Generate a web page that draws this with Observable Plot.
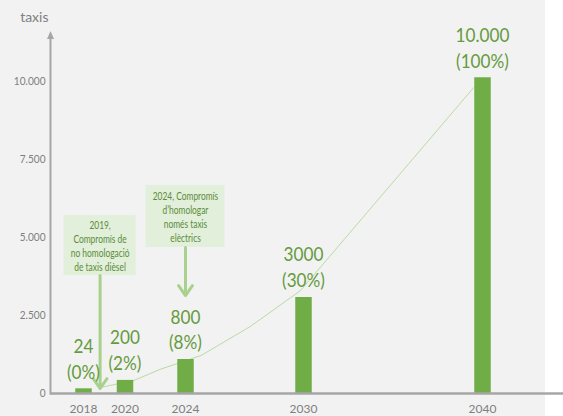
<!DOCTYPE html>
<html>
<head>
<meta charset="utf-8">
<script src="https://cdn.jsdelivr.net/npm/d3@7"></script>
<script src="https://cdn.jsdelivr.net/npm/@observablehq/plot@0.6"></script>
<style>
html, body { margin: 0; padding: 0; background: #ffffff; }
#chart { width: 563px; height: 416px; background: linear-gradient(to right, #f2f2f2 545px, #ffffff 545px); }
#chart svg { display: block; }
</style>
</head>
<body>
<div id="chart"></div>
<script>
// ---- data ----
const years = [2018, 2020, 2024, 2030, 2040];
const barValues = [150, 420, 1090, 3080, 10120];          // bar heights as drawn
const valueLabels = ["24", "200", "800", "3000", "10.000"];
const shareLabels = ["(0%)", "(2%)", "(8%)", "(30%)", "(100%)"];

const yTicks = [0, 2500, 5000, 7500, 10000];
const yTickLabels = ["0", "2.500", "5.000", "7.500", "10.000"];

const trendYears = [2018.8, 2020.6, 2022.3, 2024.8, 2027.3, 2029.85, 2039.5];
const trendValues = [190, 420, 770, 1220, 2150, 3300, 9800];

const noteYears = [2018.8, 2024];
const noteTexts = ["2019,\nCompromís de\nno homologació\nde taxis dièsel",
                   "2024, Compromís\nd’homologar\nnomés taxis\nelèctrics"];
const noteBoxTop = [5700, 6670];
const noteBoxBottom = [3780, 4680];
const noteArrowTip = [160, 3140];

// ---- layout / style (not data) ----
const W = 563, H = 416;
const xSlots = [83, 124.5, 185, 303, 482];   // irregular category spacing of the original axis
const boxHalfWidth = [36, 39.5];
const green = "#70ad47", labelGreen = "#659b3e", noteGreen = "#5b8c3a";
const lightGreen = "#a9d18e", boxFill = "#e2efda", grey = "#a6a6a6", textGrey = "#7f7f7f";
const FONT = "Lato, 'Open Sans', sans-serif";
const condense = {"20": 0.86, "11.5": 0.73, "11": 0.92};   // horizontal squeeze per font size (narrow face look)

const bars = years.map((year, i) => ({year, value: barValues[i], label: valueLabels[i] + "\n" + shareLabels[i]}));
const trend = trendYears.map((year, i) => ({year, value: trendValues[i]}));
const notes = noteYears.map((year, i) => ({year, text: noteTexts[i], top: noteBoxTop[i], bottom: noteBoxBottom[i], tip: noteArrowTip[i]}));

const noteMarks = notes.flatMap((n, i) => [
  Plot.rect([n], {x1: "year", x2: "year", y1: "bottom", y2: "top", fill: boxFill,
                  insetLeft: -boxHalfWidth[i], insetRight: -boxHalfWidth[i]}),
  Plot.arrow([n], {x1: "year", x2: "year", y1: "bottom", y2: "tip", stroke: lightGreen,
                   strokeWidth: 3, headLength: 6, headAngle: 70}),
  Plot.text([n], {x: "year", y: d => (d.top + d.bottom) / 2, text: "text", fontSize: 11.5,
                  lineHeight: 1.2, fill: noteGreen})
]);

const plot = Plot.plot({
  width: W,
  height: H,
  marginLeft: 50,
  marginRight: 0,
  marginTop: 0,
  marginBottom: 22,
  style: {fontFamily: FONT, background: "transparent", overflow: "visible"},
  x: {type: "linear", domain: years, range: xSlots, axis: null},
  y: {domain: [0, 10000], range: [393, 81], axis: null},
  marks: [
    Plot.axisY(yTicks, {tickSize: 0, tickPadding: 5, fontSize: 11, color: textGrey, label: null,
                        tickFormat: d => yTickLabels[yTicks.indexOf(d)]}),
    Plot.axisX(years, {tickSize: 0, tickPadding: 10, fontSize: 12, color: textGrey, label: null,
                       tickFormat: d => String(d)}),
    Plot.text(["taxis"], {frameAnchor: "top-left", dx: -2, dy: 12, textAnchor: "end",
                          fontSize: 14, fill: textGrey}),
    Plot.line(trend, {x: "year", y: "value", stroke: "#b9dba3", strokeWidth: 1}),
    Plot.ruleX(bars, {x: "year", y1: 0, y2: "value", stroke: green, strokeWidth: 16.5}),
    Plot.ruleY([0], {stroke: grey, strokeWidth: 2.5}),
    ...noteMarks,
    Plot.text(bars, {x: "year", y: "value", text: "label", lineAnchor: "bottom", dy: -10,
                     fontSize: 20, lineHeight: 1.3, fill: labelGreen})
  ]
});

// squeeze text horizontally around its anchor point
d3.select(plot).selectAll("g[font-size]").each(function () {
  const s = condense[this.getAttribute("font-size")];
  if (!s) return;
  d3.select(this).selectAll("text").each(function () {
    const t = this.getAttribute("transform");
    if (t) {
      this.setAttribute("transform", t + ` scale(${s},1)`);
    } else {
      const x = +(this.getAttribute("x") || 0), y = +(this.getAttribute("y") || 0);
      this.setAttribute("x", 0); this.setAttribute("y", 0);
      this.setAttribute("transform", `translate(${x},${y}) scale(${s},1)`);
    }
  });
});

// vertical axis line with arrow head (decoration placed from the plot's own scale)
const yr = plot.scale("y").range;
const svg = d3.select(plot);
const ax = 50.5;
svg.append("line").attr("x1", ax).attr("x2", ax).attr("y1", yr[0] + 1.5).attr("y2", yr[1] - 45)
   .attr("stroke", grey).attr("stroke-width", 2);
svg.append("path").attr("d", `M${ax},${yr[1] - 50}L${ax - 3.5},${yr[1] - 42}L${ax + 3.5},${yr[1] - 42}Z`)
   .attr("fill", grey);

document.getElementById("chart").appendChild(plot);
</script>
</body>
</html>
